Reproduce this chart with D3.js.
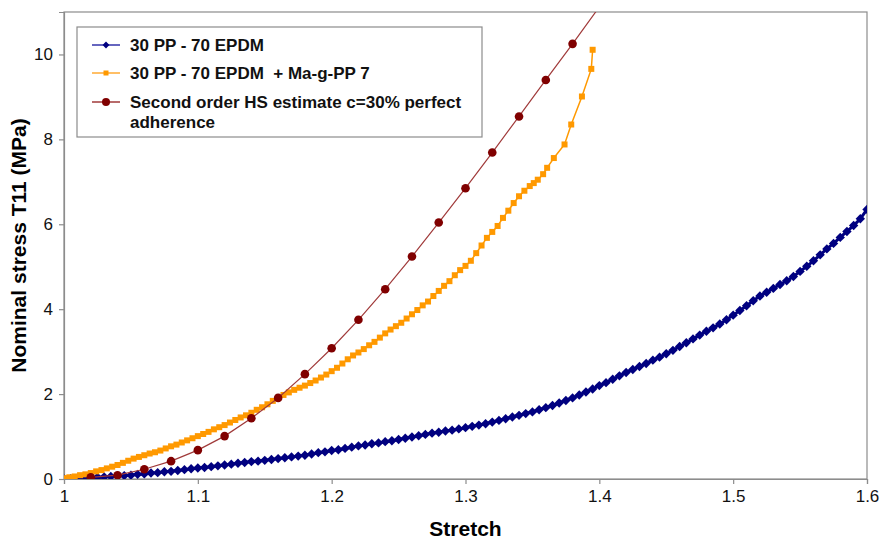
<!DOCTYPE html>
<html lang="en">
<head>
  <meta charset="UTF-8">
  <title>Nominal stress vs stretch</title>
  <style>
    body { margin: 0; background: #fff; }
    svg { font-family: "Liberation Sans", Arial, sans-serif; }
  </style>
</head>
<body>
  <div id="chart"></div>
  <script src="https://d3js.org/d3.v7.min.js"></script>
  <script>
// 30 PP - 70 EPDM  [stretch, stress]
const epdm = [
  [1.000,0.00],[1.005,0.01],[1.010,0.02],[1.015,0.02],[1.020,0.03],[1.025,0.04],[1.030,0.05],[1.035,0.06],
  [1.040,0.07],[1.045,0.08],[1.050,0.09],[1.055,0.11],[1.060,0.12],[1.065,0.14],[1.070,0.15],[1.075,0.17],
  [1.080,0.18],[1.085,0.20],[1.090,0.22],[1.095,0.24],[1.100,0.26],[1.105,0.27],[1.110,0.29],[1.115,0.31],
  [1.120,0.33],[1.125,0.35],[1.130,0.37],[1.135,0.39],[1.140,0.41],[1.145,0.42],[1.150,0.44],[1.155,0.46],
  [1.160,0.48],[1.165,0.50],[1.170,0.52],[1.175,0.54],[1.180,0.56],[1.185,0.59],[1.190,0.62],[1.195,0.64],
  [1.200,0.67],[1.205,0.69],[1.210,0.72],[1.215,0.75],[1.220,0.78],[1.225,0.80],[1.230,0.83],[1.235,0.85],
  [1.240,0.88],[1.245,0.90],[1.250,0.93],[1.255,0.96],[1.260,0.99],[1.265,1.02],[1.270,1.05],[1.275,1.08],
  [1.280,1.10],[1.285,1.13],[1.290,1.15],[1.295,1.18],[1.300,1.21],[1.305,1.24],[1.310,1.27],[1.315,1.30],
  [1.320,1.34],[1.325,1.38],[1.330,1.42],[1.335,1.46],[1.340,1.50],[1.345,1.54],[1.350,1.58],[1.355,1.63],
  [1.360,1.68],[1.365,1.73],[1.370,1.79],[1.375,1.85],[1.380,1.91],[1.385,1.98],[1.390,2.05],[1.395,2.12],
  [1.400,2.20],[1.405,2.27],[1.410,2.35],[1.415,2.43],[1.420,2.51],[1.425,2.58],[1.430,2.65],[1.435,2.72],
  [1.440,2.80],[1.445,2.87],[1.450,2.95],[1.455,3.03],[1.460,3.12],[1.465,3.21],[1.470,3.30],[1.475,3.39],
  [1.480,3.48],[1.485,3.56],[1.490,3.65],[1.495,3.75],[1.500,3.86],[1.505,3.97],[1.510,4.08],[1.515,4.20],
  [1.520,4.31],[1.525,4.40],[1.530,4.49],[1.535,4.58],[1.540,4.67],[1.545,4.77],[1.550,4.89],[1.555,5.01],
  [1.560,5.14],[1.565,5.28],[1.570,5.42],[1.575,5.55],[1.580,5.69],[1.585,5.83],[1.590,5.97],[1.595,6.13],
  [1.600,6.35]
]

// 30 PP - 70 EPDM + Ma-g-PP 7
const maggpp = [
  [1.000,0.02],[1.004,0.04],[1.008,0.06],[1.012,0.09],[1.016,0.11],[1.020,0.14],[1.024,0.18],[1.028,0.21],
  [1.032,0.25],[1.036,0.29],[1.040,0.33],[1.044,0.38],[1.048,0.43],[1.052,0.48],[1.056,0.52],[1.060,0.56],
  [1.064,0.60],[1.068,0.63],[1.072,0.67],[1.076,0.72],[1.080,0.77],[1.084,0.81],[1.088,0.86],[1.092,0.91],
  [1.096,0.96],[1.100,1.01],[1.104,1.06],[1.108,1.11],[1.112,1.17],[1.116,1.22],[1.120,1.27],[1.124,1.33],
  [1.128,1.39],[1.132,1.45],[1.136,1.50],[1.140,1.56],[1.144,1.63],[1.148,1.69],[1.152,1.76],[1.156,1.84],
  [1.160,1.91],[1.164,1.98],[1.168,2.04],[1.172,2.10],[1.176,2.15],[1.180,2.20],[1.184,2.26],[1.188,2.32],
  [1.192,2.39],[1.196,2.46],[1.200,2.54],[1.204,2.62],[1.208,2.72],[1.212,2.82],[1.216,2.91],[1.220,2.98],
  [1.224,3.06],[1.228,3.15],[1.232,3.23],[1.236,3.33],[1.240,3.43],[1.244,3.52],[1.248,3.60],[1.252,3.68],
  [1.256,3.78],[1.260,3.88],[1.264,3.98],[1.268,4.09],[1.272,4.18],[1.276,4.31],[1.280,4.43],[1.284,4.55],
  [1.288,4.66],[1.292,4.80],[1.296,4.92],[1.300,5.02],[1.304,5.14],[1.308,5.32],[1.312,5.50],[1.316,5.68],
  [1.320,5.82],[1.324,5.96],[1.328,6.15],[1.332,6.32],[1.336,6.50],[1.340,6.66],[1.344,6.79],[1.348,6.90],
  [1.351,6.97],[1.354,7.05],[1.358,7.18],[1.361,7.33],[1.366,7.56],[1.374,7.88],[1.379,8.35],[1.387,9.01],
  [1.394,9.66],[1.395,10.11]
]

// Second order HS estimate c=30% perfect adherence
const hsEstimate = [
  [1.02,0.04],[1.04,0.09],[1.06,0.23],[1.08,0.42],[1.10,0.68],[1.12,1.01],[1.14,1.43],[1.16,1.91],
  [1.18,2.47],[1.20,3.08],[1.22,3.75],[1.24,4.47],[1.26,5.24],[1.28,6.04],[1.30,6.85],[1.32,7.69],
  [1.34,8.54],[1.36,9.40],[1.38,10.25],[1.40,11.12]
]

const xTicks = [1, 1.1, 1.2, 1.3, 1.4, 1.5, 1.6]
const yTicks = [0, 2, 4, 6, 8, 10]
const legendLabels = [
  ['30 PP - 70 EPDM'],
  ['30 PP - 70 EPDM  + Ma-g-PP 7'],
  ['Second order HS estimate c=30% perfect', 'adherence']
]

const width = 882, height = 540
const margin = {top: 12, right: 15, bottom: 61, left: 64}

const x = d3.scaleLinear()
  .domain([1, 1.6])
  .range([margin.left, width - margin.right])
const y = d3.scaleLinear()
  .domain([0, 11])
  .range([height - margin.bottom, margin.top])

const svg = d3.select('#chart')
  .append('svg')
    .attr('width', width)
    .attr('height', height)

svg.append('clipPath')
    .attr('id', 'plot-clip')
  .append('rect')
    .attr('x', margin.left)
    .attr('y', margin.top)
    .attr('width', width - margin.left - margin.right)
    .attr('height', height - margin.top - margin.bottom)

// plot frame (top and right edges)
svg.append('rect')
  .attr('x', margin.left)
  .attr('y', margin.top)
  .attr('width', width - margin.left - margin.right)
  .attr('height', height - margin.top - margin.bottom)
  .attr('fill', 'none')
  .attr('stroke', '#8c8c8c')
  .attr('stroke-width', 1.2)

// axes
const xAxis = svg.append('g')
  .attr('transform', `translate(0, ${height - margin.bottom})`)
  .call(d3.axisBottom(x).tickValues(xTicks).tickSize(5).tickPadding(6).tickFormat(d3.format('')))
const yAxis = svg.append('g')
  .attr('transform', `translate(${margin.left}, 0)`)
  .call(d3.axisLeft(y).tickValues(yTicks).tickSize(5).tickPadding(6))

svg.selectAll('.domain, .tick line')
  .attr('stroke', '#8c8c8c')
  .attr('stroke-width', 1.2)
svg.selectAll('.tick text')
  .attr('fill', '#111')
  .style('font-size', '17px')
  .style('font-family', '"Liberation Sans", Arial, sans-serif')

// axis titles
svg.append('text')
  .attr('x', (margin.left + width - margin.right) / 2)
  .attr('y', 536)
  .attr('text-anchor', 'middle')
  .style('font-size', '21px')
  .style('font-weight', 'bold')
  .text('Stretch')

svg.append('text')
  .attr('transform', `translate(26, ${(margin.top + height - margin.bottom) / 2}) rotate(-90)`)
  .attr('text-anchor', 'middle')
  .style('font-size', '21px')
  .style('font-weight', 'bold')
  .text('Nominal stress T11 (MPa)')

const plot = svg.append('g').attr('clip-path', 'url(#plot-clip)')
const line = d3.line().x(d => x(d[0])).y(d => y(d[1]))

// blue series
plot.append('path')
  .datum(epdm)
  .attr('d', line)
  .attr('fill', 'none')
  .attr('stroke', '#000080')
  .attr('stroke-width', 3)
plot.append('g')
  .selectAll('path')
  .data(epdm)
  .enter()
  .append('path')
    .attr('d', d3.symbol(d3.symbolDiamond2, 56))
    .attr('transform', d => `translate(${x(d[0])}, ${y(d[1])})`)
    .attr('fill', '#000080')

// orange series
plot.append('path')
  .datum(maggpp)
  .attr('d', line)
  .attr('fill', 'none')
  .attr('stroke', '#ff9900')
  .attr('stroke-width', 1.5)
plot.append('g')
  .selectAll('rect')
  .data(maggpp)
  .enter()
  .append('rect')
    .attr('x', d => x(d[0]) - 3)
    .attr('y', d => y(d[1]) - 3)
    .attr('width', 6)
    .attr('height', 6)
    .attr('fill', '#ff9900')

// HS estimate
plot.append('path')
  .datum(hsEstimate)
  .attr('d', line)
  .attr('fill', 'none')
  .attr('stroke', '#a03a3a')
  .attr('stroke-width', 1.2)
plot.append('g')
  .selectAll('circle')
  .data(hsEstimate)
  .enter()
  .append('circle')
    .attr('cx', d => x(d[0]))
    .attr('cy', d => y(d[1]))
    .attr('r', 4.3)
    .attr('fill', '#800000')

// legend
const legend = svg.append('g')
legend.append('rect')
  .attr('x', 77)
  .attr('y', 27)
  .attr('width', 405)
  .attr('height', 110)
  .attr('fill', '#fff')
  .attr('stroke', '#8c8c8c')
  .attr('stroke-width', 1.2)

const legendRows = [45, 73, 102]
const lineColors = ['#3333aa', '#ffaa33', '#a03a3a']
legendRows.forEach((ry, i) => {
  legend.append('line')
    .attr('x1', 92).attr('x2', 120)
    .attr('y1', ry).attr('y2', ry)
    .attr('stroke', lineColors[i])
    .attr('stroke-width', 1.5)
  legendLabels[i].forEach((t, j) => {
    legend.append('text')
      .attr('x', 130)
      .attr('y', ry + 6 + j * 20)
      .attr('xml:space', 'preserve')
      .style('white-space', 'pre')
      .style('font-size', '17px')
      .style('font-weight', 'bold')
      .attr('fill', '#111')
      .text(t)
  })
})
legend.append('path')
  .attr('d', d3.symbol(d3.symbolDiamond2, 30))
  .attr('transform', `translate(106, ${legendRows[0]})`)
  .attr('fill', '#000080')
legend.append('rect')
  .attr('x', 103.5).attr('y', legendRows[1] - 2.5)
  .attr('width', 5).attr('height', 5)
  .attr('fill', '#ff9900')
legend.append('circle')
  .attr('cx', 106).attr('cy', legendRows[2])
  .attr('r', 4)
  .attr('fill', '#800000')
  </script>
</body>
</html>
